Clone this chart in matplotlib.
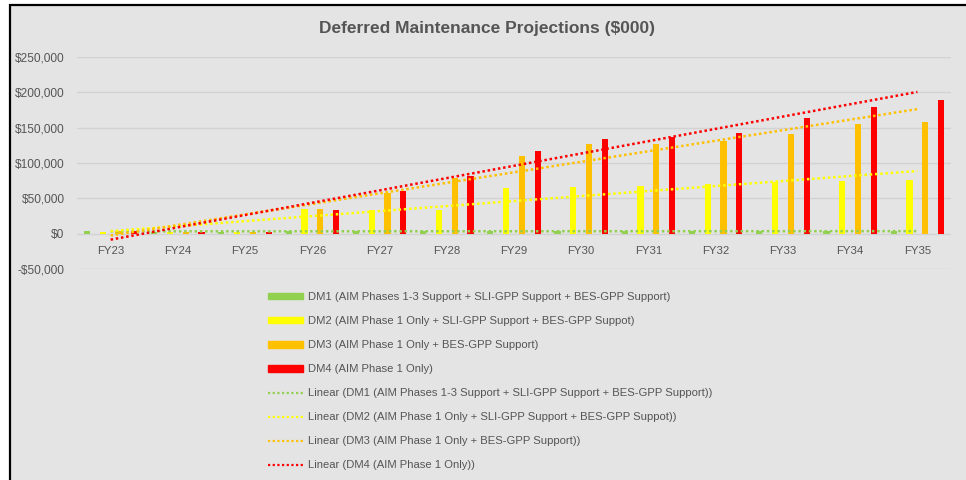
import numpy as np
import matplotlib
matplotlib.use("Agg")
import matplotlib.pyplot as plt
from matplotlib.patches import Rectangle
from matplotlib.lines import Line2D
from matplotlib.ticker import FuncFormatter

# --- данные (тыс. $) ---
years = ["FY23", "FY24", "FY25", "FY26", "FY27", "FY28", "FY29",
         "FY30", "FY31", "FY32", "FY33", "FY34", "FY35"]
dm1 = [3500, 3000, 3000, 3500, 3500, 3500, 3500, 3500, 3500, 3500, 3500, 3500, 3500]
dm2 = [2500, 2000, 2000, 35000, 33500, 33500, 64500, 65900, 67800, 70200, 72500, 73900, 76300]
dm3 = [4000, 2500, 2500, 35000, 58200, 78700, 110500, 126200, 126200, 131000, 140500, 154800, 158600]
dm4 = [4000, 2500, 2500, 34000, 60600, 82000, 116700, 134400, 137200, 142900, 164300, 178600, 189000]

labels = [
    "DM1 (AIM Phases 1-3 Support + SLI-GPP Support + BES-GPP Support)",
    "DM2 (AIM Phase 1 Only + SLI-GPP Support + BES-GPP Suppot)",
    "DM3 (AIM Phase 1 Only + BES-GPP Support)",
    "DM4 (AIM Phase 1 Only)",
]
colors = ["#92d050", "#ffff00", "#ffc000", "#ff0000"]

W, H = 966, 480
fig = plt.figure(figsize=(W / 100, H / 100), dpi=100)
fig.patch.set_facecolor("white")
plt.rcParams["font.family"] = ["Liberation Sans", "DejaVu Sans"]
txt_color = "#555555"
bg = "#e4e4e4"

# рамка области диаграммы
frame = Rectangle((10 / W, -0.1), 1.2, 1 - 5 / H + 0.1, transform=fig.transFigure,
                  facecolor=bg, edgecolor="black", linewidth=1.6, zorder=-5)
fig.patches.append(frame)

ax = fig.add_axes([77 / W, 1 - 269 / H, (951 - 77) / W, (269 - 57) / H])
ax.set_zorder(2)
ax.set_facecolor("none")

x = np.arange(len(years))
slot = 0.235
bw = 0.092
series = [dm1, dm2, dm3, dm4]
for i, (vals, c) in enumerate(zip(series, colors)):
    ax.bar(x + (i - 1.5) * slot, vals, width=bw, color=c, zorder=2)

# линейные тренды
for vals, c in zip(series, colors):
    k, b = np.polyfit(x, vals, 1)
    ax.plot(x, k * x + b, color=c, linewidth=1.8, linestyle=(0, (1, 1.1)), zorder=3)

ax.set_xlim(-0.5, 12.5)
ax.set_ylim(-50000, 250000)
ax.set_yticks(np.arange(-50000, 250001, 50000))
ax.yaxis.set_major_formatter(FuncFormatter(lambda v, p: f"-${abs(v):,.0f}" if v < 0 else f"${v:,.0f}"))
ax.grid(True, axis="y", color="#d2d2d2", linewidth=1, zorder=1)
ax.set_axisbelow(True)
for s in ax.spines.values():
    s.set_visible(False)
ax.spines["bottom"].set_position(("data", 0))
ax.set_xticks(x)
ax.set_xticklabels(years)
ax.tick_params(axis="both", length=0, labelcolor=txt_color)
ax.tick_params(axis="y", pad=9, labelsize=8.6)
ax.tick_params(axis="x", pad=9, labelsize=8.2)

fig.text(487 / W, 1 - 28 / H, "Deferred Maintenance Projections ($000)", ha="center", va="center",
         fontsize=12.5, fontweight="bold", color=txt_color)

handles = [Rectangle((0, 0), 1, 1, color=c) for c in colors]
handles += [Line2D([], [], color=c, linewidth=1.6, linestyle=(0, (1, 1.1))) for c in colors]
leg_labels = labels + [f"Linear ({l})" for l in labels]
fs = 8.1
fig.legend(handles, leg_labels, loc="upper left", bbox_to_anchor=(268 / W, 1 - 292 / H),
           frameon=False, fontsize=fs, labelcolor=txt_color, borderpad=0, borderaxespad=0,
           handlelength=3.1, handleheight=0.55, handletextpad=0.5, labelspacing=1.25)

fig.savefig("out.png", dpi=100, facecolor="white")
